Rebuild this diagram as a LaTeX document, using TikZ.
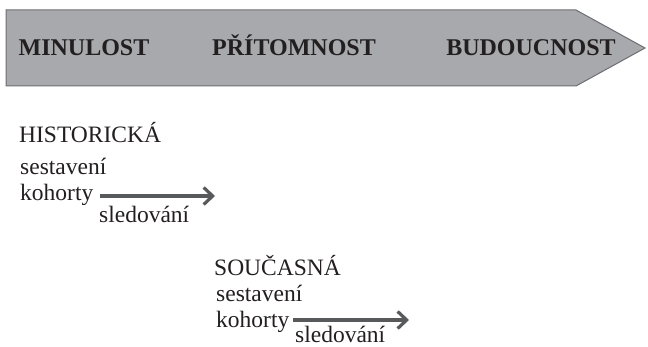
\documentclass[tikz,border=0pt]{standalone}
\usepackage{fontspec}
\setmainfont{Liberation Serif}
\usetikzlibrary{arrows.meta}
\definecolor{bannerfill}{HTML}{A7A9AC}
\definecolor{bannerline}{HTML}{6D6E71}
\definecolor{txt}{HTML}{231F20}
\definecolor{arrowgray}{HTML}{58595B}
\tikzset{
  x=1pt,y=-1pt,
  period/.style={font=\bfseries\fontsize{24}{26}\selectfont, text=txt, inner sep=0pt, anchor=base},
  head/.style={font=\fontsize{23.5}{26}\selectfont, text=txt, inner sep=0pt, anchor=base west},
  lbl/.style={font=\fontsize{23.5}{26}\selectfont, text=txt, inner sep=0pt, anchor=base west},
  follow/.style={draw=arrowgray, line width=3.6pt, -{Straight Barb[length=9pt,width=17pt,line width=3.2pt]}}
}
\begin{document}
\begin{tikzpicture}
\useasboundingbox (0,0) rectangle (648,347);
% banner
\draw[fill=bannerfill, draw=bannerline, line width=1pt]
  (6,10) -- (576,10) -- (645,48) -- (576,86) -- (6,86) -- cycle;
\node[period] (past) at (84,56) {MINULOST};
\node[period] (present) at (294,56) {PŘÍTOMNOST};
\node[period] (future) at (531,56) {BUDOUCNOST};
% historical
\node[head] (hist) at (19,143) {HISTORICKÁ};
\node[lbl] (hs) at (20,175) {sestavení};
\node[lbl] (hk) at (20,201) {kohorty};
\node[lbl] (hf) at (99,223) {sledování};
\coordinate (ha) at (100,196);
\coordinate (hb) at (215,196);
\draw[follow] (ha) -- (hb);
% current
\node[head] (cur) at (214,276) {SOUČASNÁ};
\node[lbl] (cs) at (216,302) {sestavení};
\node[lbl] (ck) at (216,327) {kohorty};
\node[lbl] (cf) at (295,342) {sledování};
\coordinate (ca) at (293,320);
\coordinate (cb) at (409,320);
\draw[follow] (ca) -- (cb);
\end{tikzpicture}
\end{document}
